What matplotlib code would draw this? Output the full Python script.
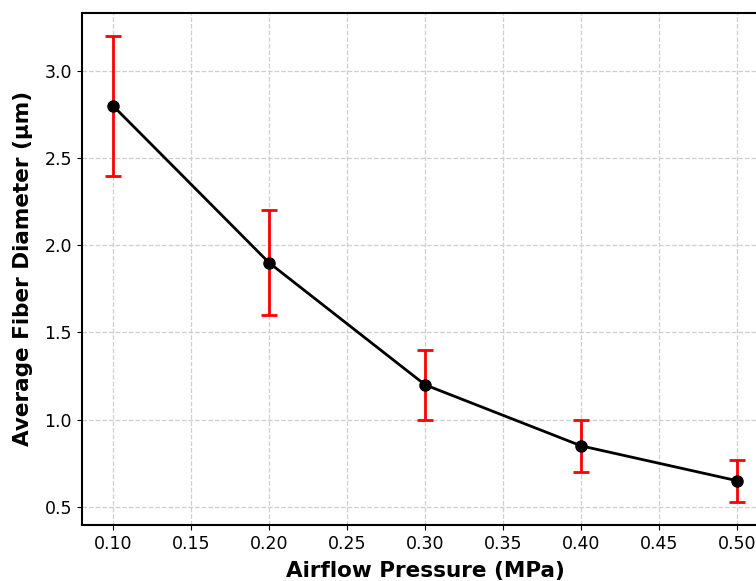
import matplotlib
matplotlib.use("Agg")
import matplotlib.pyplot as plt

pressure = [0.10, 0.20, 0.30, 0.40, 0.50]
diameter = [2.80, 1.90, 1.20, 0.85, 0.65]
error = [0.40, 0.30, 0.20, 0.15, 0.12]
xticks = [0.10, 0.15, 0.20, 0.25, 0.30, 0.35, 0.40, 0.45, 0.50]
yticks = [0.5, 1.0, 1.5, 2.0, 2.5, 3.0]

fig = plt.figure(figsize=(7.56, 5.81), dpi=100)
ax = fig.add_axes([0.1081, 0.0964, 0.9085, 0.8818])

ax.errorbar(pressure, diameter, yerr=error, fmt='-o', color='black',
            ecolor='red', elinewidth=2, capsize=6, capthick=2,
            linewidth=2, markersize=8, zorder=3)

ax.set_xticks(xticks)
ax.set_xticklabels([f"{v:.2f}" for v in xticks])
ax.set_yticks(yticks)
ax.tick_params(labelsize=12.5)
ax.set_xlabel("Airflow Pressure (MPa)", fontsize=15.5, fontweight='bold', labelpad=6)
ax.set_ylabel("Average Fiber Diameter (µm)", fontsize=15.5, fontweight='bold', labelpad=8)
ax.grid(True, linestyle='--', color='#cfcfcf', linewidth=0.9)
ax.set_axisbelow(True)
for s in ax.spines.values():
    s.set_linewidth(1.5)

fig.savefig("out.png", dpi=100)
